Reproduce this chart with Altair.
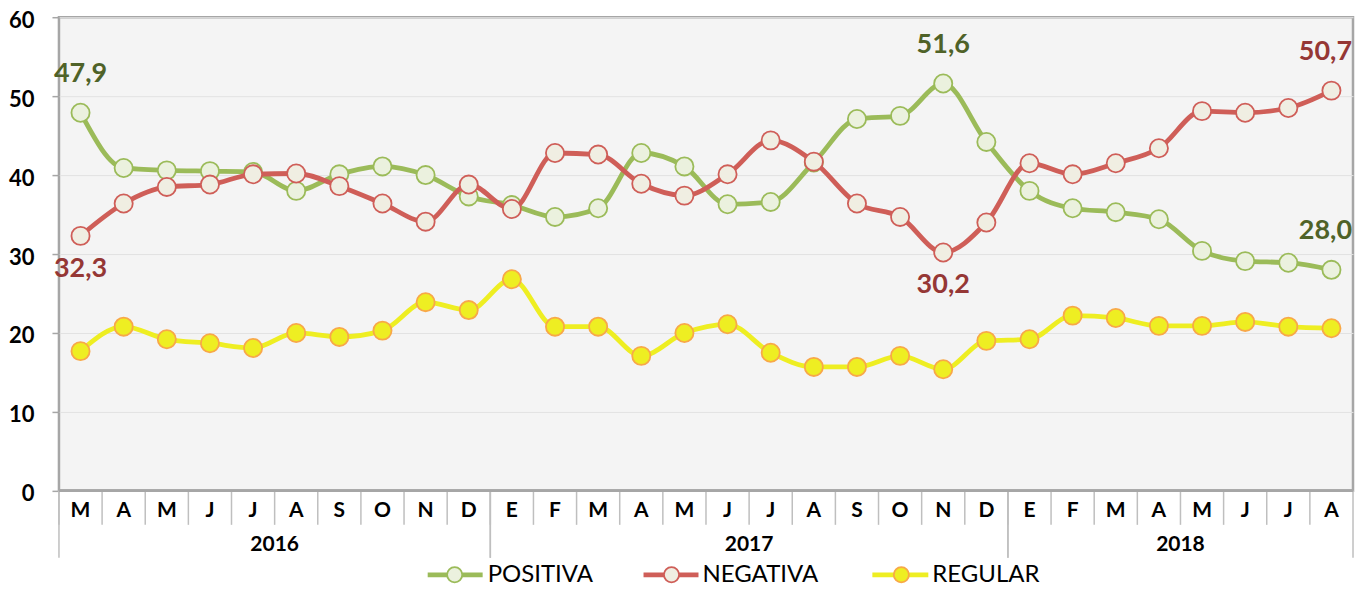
import altair as alt
import pandas as pd

months = ["M", "A", "M", "J", "J", "A", "S", "O", "N", "D",
          "E", "F", "M", "A", "M", "J", "J", "A", "S", "O", "N", "D",
          "E", "F", "M", "A", "M", "J", "J", "A"]
years = [2016] * 10 + [2017] * 12 + [2018] * 8

positiva = [47.9, 40.9, 40.6, 40.5, 40.4, 38.0, 40.1, 41.1, 40.0, 37.3,
            36.2, 34.7, 35.8, 42.8, 41.1, 36.3, 36.6, 41.6, 47.1, 47.5, 51.6, 44.2,
            38.0, 35.8, 35.3, 34.4, 30.4, 29.1, 28.9, 28.0]
negativa = [32.3, 36.4, 38.5, 38.8, 40.1, 40.2, 38.6, 36.4, 34.1, 38.8,
            35.7, 42.8, 42.6, 38.9, 37.4, 40.1, 44.4, 41.7, 36.4, 34.7, 30.2, 34.0,
            41.5, 40.1, 41.5, 43.4, 48.1, 47.9, 48.5, 50.7]
regular = [17.7, 20.8, 19.2, 18.7, 18.1, 20.0, 19.5, 20.3, 23.9, 22.9,
           26.8, 20.8, 20.8, 17.1, 20.0, 21.1, 17.5, 15.7, 15.7, 17.1, 15.4, 19.0,
           19.2, 22.2, 21.9, 20.9, 20.9, 21.4, 20.8, 20.6]

year_names = [2016, 2017, 2018]
year_start = [0, 10, 22]
year_end = [10, 22, 30]

series = ["POSITIVA", "NEGATIVA", "REGULAR"]
line_colors = ["#9BBB59", "#CF5E58", "#EEEE22"]
fill_colors = ["#EBF1DE", "#F0EEE2", "#EEEE22"]
stroke_colors = ["#9BBB59", "#CF5E58", "#F8A848"]
label_colors = ["#4F6228", "#953735", "#000000"]

# labelled points: (series, index, above?)
labelled = [("POSITIVA", 0, True), ("NEGATIVA", 0, False),
            ("POSITIVA", 20, True), ("NEGATIVA", 20, False),
            ("NEGATIVA", 29, True), ("POSITIVA", 29, True)]

df = pd.DataFrame({"i": list(range(30)), "mes": months, "anio": years,
                   "POSITIVA": positiva, "NEGATIVA": negativa, "REGULAR": regular})
long = df.melt(id_vars=["i", "mes", "anio"], value_vars=series,
               var_name="serie", value_name="v")
ydf = pd.DataFrame({"anio": year_names, "start": year_start, "end": year_end})

W, H = 1295, 474
FONT = "Lato"

xs = alt.Scale(domain=[0, 30], nice=False, zero=False)
ys = alt.Scale(domain=[0, 60], nice=False)
yaxis = alt.Axis(values=[0, 10, 20, 30, 40, 50, 60], labelFont=FONT,
                 labelFontWeight="bold", labelFontSize=22, labelColor="#000",
                 tickSize=7, tickColor="#A6A6A6", tickWidth=1.5, labelOffset=3,
                 labelPadding=18, domain=False, gridColor="#E2E2E2",
                 gridWidth=1, title=None)


def Y(field):
    return alt.Y(field, scale=ys, axis=yaxis, title=None)


def X(field):
    return alt.X(field, scale=xs, axis=None)


layers = []

for s, lc, fc, sc in zip(series, line_colors, fill_colors, stroke_colors):
    sub = alt.Chart(long).transform_filter(alt.datum.serie == s).transform_calculate(
        xc="datum.i + 0.5")
    layers.append(sub.mark_line(color=lc, strokeWidth=4.8, interpolate="monotone").encode(
        x=X("xc:Q"), y=Y("v:Q")))
    layers.append(sub.mark_point(filled=True, fill=fc, stroke=sc, strokeWidth=1.8,
                                 size=330, opacity=1, shape="circle").encode(
        x=X("xc:Q"), y=Y("v:Q")))

# data labels
for s, idx, above in labelled:
    col = label_colors[series.index(s)]
    dx = -6 if idx == 29 else 0
    dy = -39 if above else 33
    layers.append(
        alt.Chart(long).transform_filter(
            (alt.datum.serie == s) & (alt.datum.i == idx)
        ).transform_calculate(
            xc="datum.i + 0.5",
            lab="replace(format(datum.v, '.1f'), '.', ',')"
        ).mark_text(font=FONT, fontWeight="bold", fontSize=27, color=col,
                    dx=dx, dy=dy, baseline="middle").encode(
            x=X("xc:Q"), y=Y("v:Q"), text="lab:N"))

# month separators
layers.append(alt.Chart(df).mark_rule(color="#BFBFBF", strokeWidth=1.5).encode(
    x=X("i:Q"), y=alt.value(H), y2=alt.value(H + 34)))
# year separators
layers.append(alt.Chart(ydf).mark_rule(color="#BFBFBF", strokeWidth=1.5).encode(
    x=X("start:Q"), y=alt.value(H), y2=alt.value(H + 67)))
layers.append(alt.Chart(ydf).mark_rule(color="#BFBFBF", strokeWidth=1.5).encode(
    x=X("end:Q"), y=alt.value(H), y2=alt.value(H + 67)))
# bottom axis line
layers.append(alt.Chart(ydf).mark_rule(color="#A6A6A6", strokeWidth=2.5).encode(
    x=alt.value(0), x2=alt.value(W), y=alt.value(H)))

# month labels
layers.append(alt.Chart(df).transform_calculate(xc="datum.i + 0.5").mark_text(
    font=FONT, fontWeight="bold", fontSize=21, color="#000", baseline="middle").encode(
    x=X("xc:Q"), y=alt.value(H + 20), text="mes:N"))
# year labels
layers.append(alt.Chart(ydf).transform_calculate(xc="(datum.start + datum.end) / 2").mark_text(
    font=FONT, fontWeight="bold", fontSize=21, color="#000", baseline="middle").encode(
    x=X("xc:Q"), y=alt.value(H + 54), text="anio:N"))

# legend
leg_line = [(369, 424), (585, 640), (814, 870)]
leg_dot = [396, 613, 843]
leg_text = [429, 644, 874]
LY = H + 84
legdf = pd.DataFrame({"serie": series})
for k, s in enumerate(series):
    base = alt.Chart(legdf).transform_filter(alt.datum.serie == s)
    layers.append(base.mark_rule(color=line_colors[k], strokeWidth=4.8).encode(
        x=alt.value(leg_line[k][0]), x2=alt.value(leg_line[k][1]), y=alt.value(LY)))
    layers.append(base.mark_point(filled=True, fill=fill_colors[k], stroke=stroke_colors[k],
                                  strokeWidth=1.8, size=230, opacity=1, shape="circle").encode(
        x=alt.value(leg_dot[k]), y=alt.value(LY)))
    layers.append(base.mark_text(font=FONT, fontSize=24, color="#000", align="left",
                                 baseline="middle").encode(
        x=alt.value(leg_text[k]), y=alt.value(LY), text="serie:N"))

chart = alt.layer(*layers).properties(
    width=W, height=H,
    autosize=alt.AutoSizeParams(type="none"),
    padding={"left": 51, "top": 9, "right": 8, "bottom": 100},
).configure_view(fill="#F4F4F4", stroke="#A6A6A6", strokeWidth=2.5)

chart.save("out.html", embed_options={"renderer": "svg", "actions": False})
